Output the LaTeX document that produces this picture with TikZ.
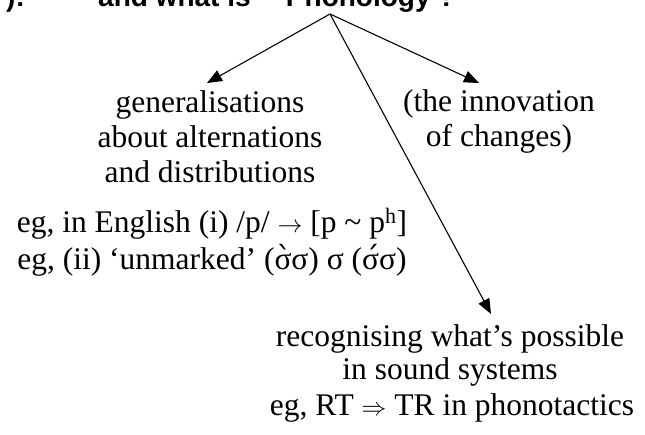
\documentclass[tikz,border=0pt]{standalone}
\usepackage{fontspec}
\setmainfont{Liberation Serif}
\newfontfamily\headfont{Liberation Sans}
\newfontfamily\accfont{DejaVu Serif}
\newcommand\gravesig{\ooalign{σ\cr\hidewidth\kern0.08em{\accfont ˋ}\hidewidth\cr}}
\newcommand\acutesig{\ooalign{σ\cr\hidewidth\kern0.08em{\accfont ˊ}\hidewidth\cr}}
\usetikzlibrary{arrows.meta}
\begin{document}
\begin{tikzpicture}[x=1pt,y=-1pt,
  txt/.style={anchor=base,inner sep=0pt,font=\fontsize{31.5}{36}\selectfont},
  head/.style={anchor=base west,inner sep=0pt,font=\headfont\bfseries\fontsize{28}{32}\selectfont},
  arr/.style={line width=1.1pt,-{Triangle[length=15pt,width=12pt]}}]
\useasboundingbox (0,0) rectangle (645,435);
\clip (0,0) rectangle (645,435);
% clipped heading
\node[head] (hA) at (6,7) {):};
\node[head] (hB) at (98,7) {and what is};
\node[head] (hC) at (278,7) {‘Phonology’?};
% connector points
\coordinate (apex) at (330,14);
\coordinate (tipL) at (207,83);
\coordinate (tipR) at (479,83);
\coordinate (tipB) at (491,314);
% left block
\node[txt] (l1) at (210,113) {generalisations};
\node[txt] (l2) at (210,148) {about alternations};
\node[txt] (l3) at (210,183) {and distributions};
\node[txt] (l4) at (212,233) {eg, in English (i) /p/ $\rightarrow$ [p \textasciitilde{} p\textsuperscript{h}]};
\node[txt] (l5) at (212,270) {eg, (ii) ‘unmarked’ (\gravesig σ) σ (\acutesig σ)};
% right block
\node[txt] (r1) at (499,112) {(the innovation};
\node[txt] (r2) at (499,147) {of changes)};
% bottom block
\node[txt] (b1) at (450,347) {recognising what’s possible};
\node[txt] (b2) at (450,380) {in sound systems};
\node[txt] (b3) at (452,415) {eg, RT $\Rightarrow$ TR in phonotactics};
% arrows
\draw[arr] (apex) -- (tipL);
\draw[arr] (apex) -- (tipR);
\draw[arr] (apex) -- (tipB);
\end{tikzpicture}
\end{document}
